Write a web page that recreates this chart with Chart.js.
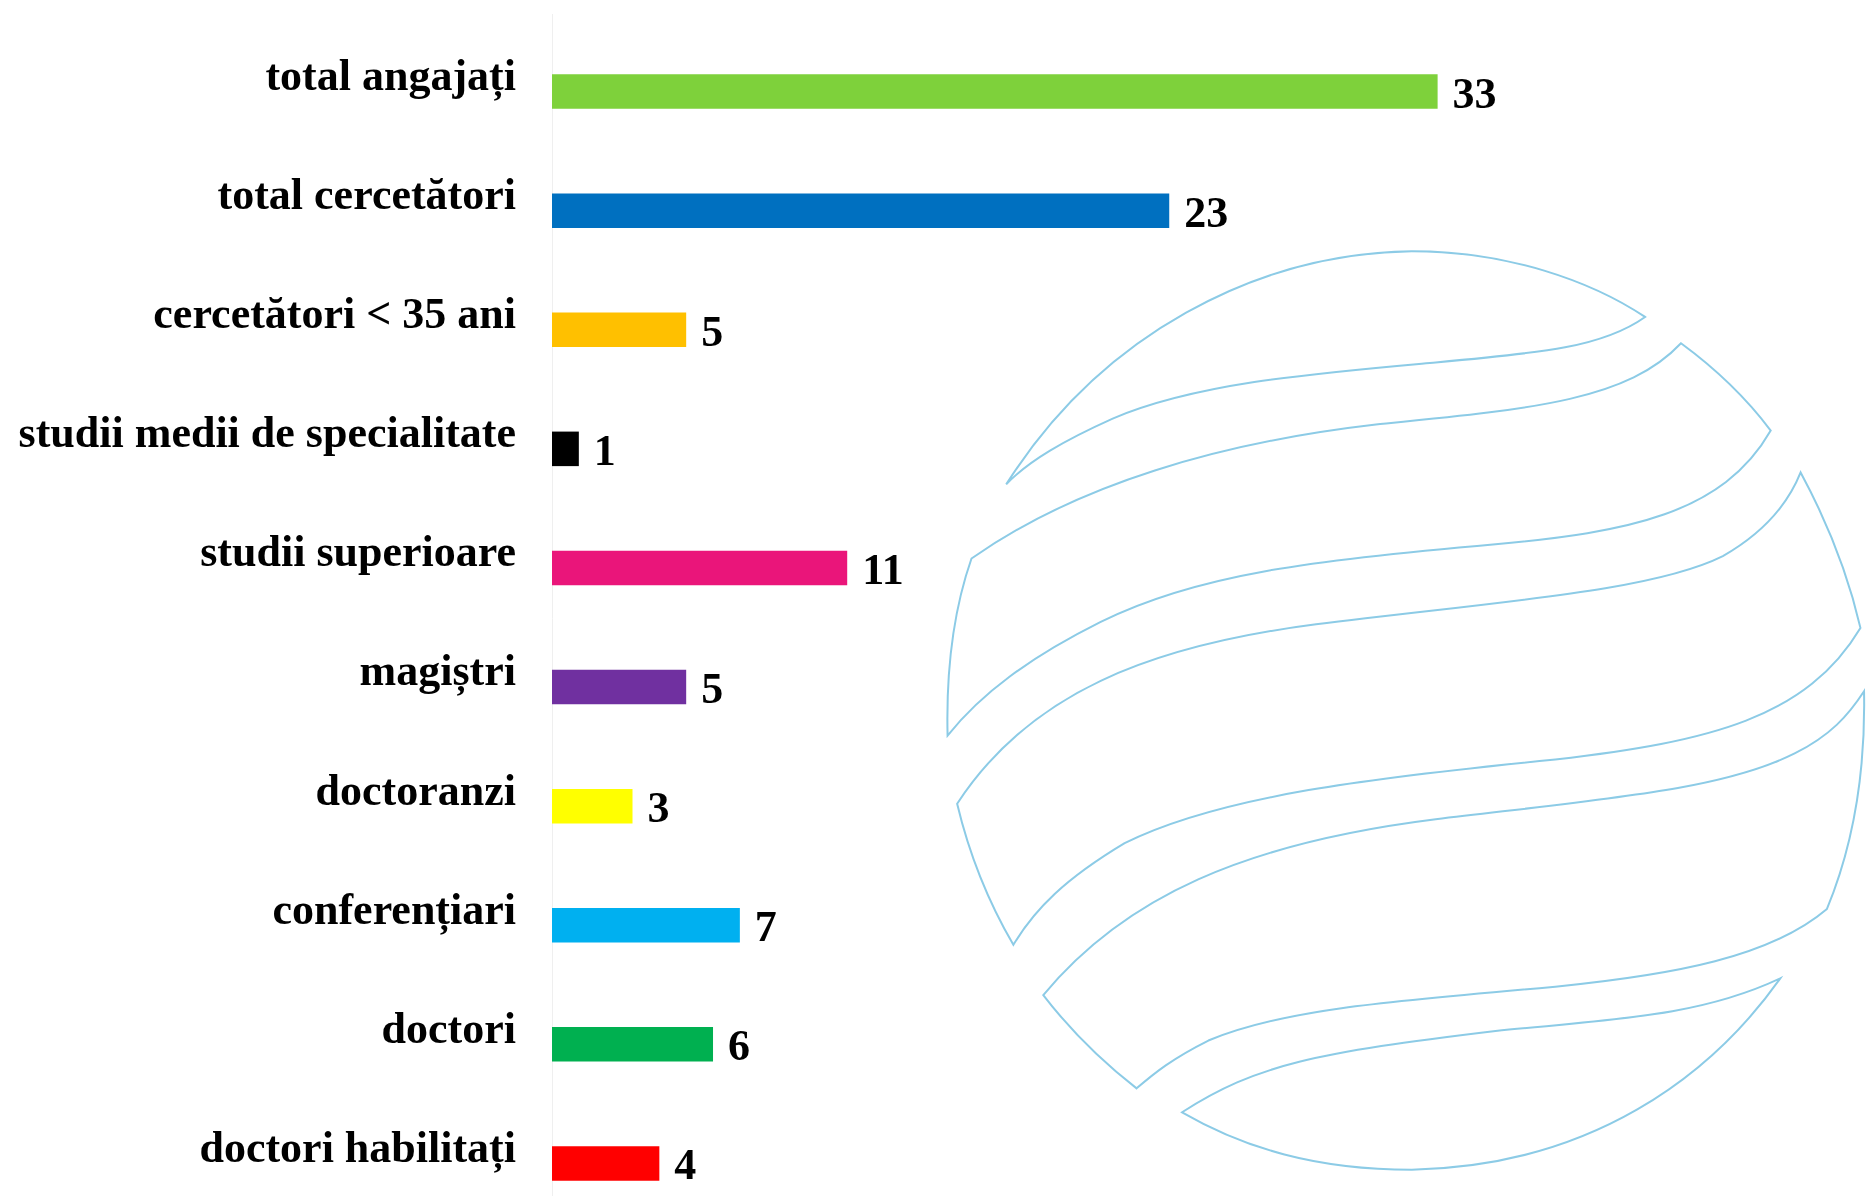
<!DOCTYPE html>
<html>
<head>
<meta charset="utf-8">
<script src="https://cdn.jsdelivr.net/npm/chart.js@4/dist/chart.umd.min.js"></script>
<style>
  html, body { margin: 0; padding: 0; background: #ffffff; overflow: hidden; }
  #logo { position: absolute; left: 0; top: 0; width: 1876px; height: 1196px; }
  #wrap { position: absolute; left: 0; top: 0; width: 1876px; height: 1223px; }
</style>
</head>
<body>
<!-- decorative globe outline behind the chart -->
<svg id="logo" viewBox="0 0 1568 1000" preserveAspectRatio="none">
  <g fill="none" stroke="#8ccbe6" stroke-width="2">
    <path vector-effect="non-scaling-stroke" d="M 841 405 C 920 280, 1050 212, 1180 210 C 1260 210, 1330 235, 1375 265 C 1340 290, 1290 295, 1200 303 C 1100 312, 1000 320, 930 350 C 890 368, 860 385, 841 405 Z"/>
    <path vector-effect="non-scaling-stroke" d="M 812 467 C 900 405, 1020 370, 1150 355 C 1280 342, 1360 335, 1405 287 Q 1450 320, 1480 360 C 1440 430, 1360 445, 1250 455 C 1100 468, 1000 480, 920 520 C 860 550, 820 580, 792 615 Q 790 530, 812 467 Z"/>
    <path vector-effect="non-scaling-stroke" d="M 800 672 C 860 580, 960 540, 1100 522 C 1250 503, 1380 495, 1440 465 C 1475 445, 1495 420, 1505 395 Q 1540 460, 1555 525 C 1510 600, 1430 620, 1300 635 C 1150 650, 1020 665, 940 705 C 890 735, 865 760, 847 790 Q 815 735, 800 672 Z"/>
    <path vector-effect="non-scaling-stroke" d="M 872 832 C 940 750, 1040 705, 1200 685 C 1350 667, 1440 660, 1500 630 C 1530 615, 1545 598, 1558 578 Q 1560 680, 1527 760 C 1480 800, 1400 815, 1300 825 C 1150 838, 1070 845, 1010 870 C 980 885, 965 897, 950 910 Q 905 875, 872 832 Z"/>
    <path vector-effect="non-scaling-stroke" d="M 988 930 C 1050 890, 1100 880, 1250 862 C 1350 852, 1420 850, 1488 818 C 1430 900, 1330 975, 1180 978 C 1100 978, 1040 960, 988 930 Z"/>
  </g>
</svg>
<div id="wrap"><canvas id="staffChart"></canvas></div>
<script>
// Categories, top to bottom
const categories = [
  "total angajați",
  "total cercetători",
  "cercetători < 35 ani",
  "studii medii de specialitate",
  "studii superioare",
  "magiștri",
  "doctoranzi",
  "conferențiari",
  "doctori",
  "doctori habilitați"
];

// Number of people in each category
const counts = [33, 23, 5, 1, 11, 5, 3, 7, 6, 4];

// One colour per bar
const barColors = [
  "#7ed13b", "#0070c0", "#ffc000", "#000000", "#ea157a",
  "#7030a0", "#ffff00", "#00b0f0", "#00b050", "#ff0000"
];

const labelFont = { family: "'Liberation Serif', 'Times New Roman', serif", size: 44, weight: "bold" };

// Faint vertical axis line, a bit taller than the plot area
const axisLine = {
  id: "axisLine",
  beforeDatasetsDraw(chart) {
    const ctx = chart.ctx;
    const x = Math.round(chart.chartArea.left) + 0.5;
    ctx.save();
    ctx.strokeStyle = "#efefef";
    ctx.lineWidth = 1;
    ctx.beginPath();
    ctx.moveTo(x, 14);
    ctx.lineTo(x, chart.chartArea.bottom);
    ctx.stroke();
    ctx.restore();
  }
};

// Writes each value just right of its bar
const valueLabels = {
  id: "valueLabels",
  afterDatasetsDraw(chart) {
    const ctx = chart.ctx;
    const meta = chart.getDatasetMeta(0);
    ctx.save();
    ctx.font = "bold 44px 'Liberation Serif', 'Times New Roman', serif";
    ctx.fillStyle = "#000000";
    ctx.textAlign = "left";
    ctx.textBaseline = "alphabetic";
    meta.data.forEach(function (bar, i) {
      ctx.fillText(String(counts[i]), bar.x + 15, bar.y + 16);
    });
    ctx.restore();
  }
};

document.addEventListener("DOMContentLoaded", function () {
  const ctx = document.getElementById("staffChart").getContext("2d");

  new Chart(ctx, {
    type: "bar",
    data: {
      labels: categories,
      datasets: [{
        data: counts,
        backgroundColor: barColors,
        borderWidth: 0,
        categoryPercentage: 1,
        barPercentage: 0.29
      }]
    },
    options: {
      indexAxis: "y",
      responsive: true,
      maintainAspectRatio: false,
      animation: false,
      layout: { padding: { top: 32, right: 9, bottom: 0, left: 0 } },
      plugins: {
        legend: { display: false },
        tooltip: { enabled: false }
      },
      scales: {
        x: {
          display: false,
          min: 0,
          max: 49
        },
        y: {
          grid: { display: false, drawTicks: false },
          border: { display: false },
          ticks: {
            color: "#000000",
            font: labelFont,
            padding: 36,
            labelOffset: -13
          },
          afterFit: function (scale) {
            scale.width = 552;
            scale.paddingTop = 0;
            scale.paddingBottom = 0;
          }
        }
      }
    },
    plugins: [axisLine, valueLabels]
  });
});
</script>
</body>
</html>
